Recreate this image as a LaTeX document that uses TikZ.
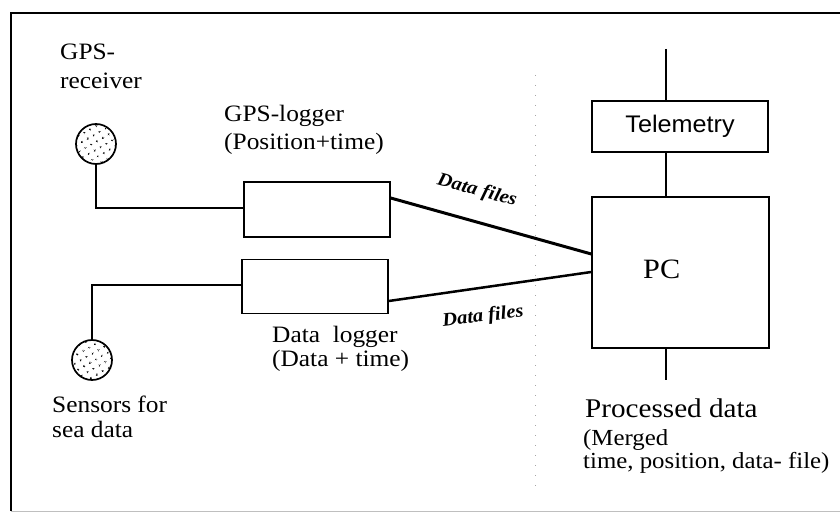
\documentclass[tikz,border=0pt]{standalone}
\usepackage{fontspec}
\setmainfont[FakeStretch=1.08]{Liberation Serif}
\newfontfamily\telefont[FakeStretch=1.05]{Liberation Sans}
\usetikzlibrary{patterns.meta}
\begin{document}
\begin{tikzpicture}[x=1pt,y=1pt,
  lbl/.style={anchor=base west,inner sep=0pt,font=\fontsize{23.5}{28}\selectfont,align=left},
  boxnode/.style={draw,line width=1.4pt,inner sep=0pt},
  wire/.style={line width=1.4pt},
  datawire/.style={line width=3pt},
  sensor/.style={circle,draw,line width=1.7pt,minimum size=40pt,inner sep=0pt,
     pattern={Dots[distance=6.5pt,angle=30,radius=1.1pt]}},
  hand/.style={font=\fontsize{19}{19}\selectfont\itshape\bfseries,inner sep=0pt}]
\useasboundingbox (0,0) rectangle (840,-521);
% frame
\draw[line width=1.5pt] (840,-13) -- (11,-13) -- (11,-511);
\draw[line width=0.6pt,black!25] (11,-511) -- (840,-511);
\draw[black!35,line width=0.8pt,dash pattern=on 1pt off 9pt] (535,-75) -- (535,-495);
% sensors
\node[sensor] (gpsr) at (96,-144) {};
\node[sensor] (seas) at (92,-360) {};
% boxes
\node[boxnode,minimum width=146pt,minimum height=55pt] (gpsl) at (317,-209.5) {};
\node[boxnode,minimum width=146pt,minimum height=54pt] (datal) at (315,-286.5) {};
\node[boxnode,minimum width=176pt,minimum height=51pt,font=\telefont\fontsize{24}{24}\selectfont] (tele) at (680,-126.5) {Telemetry};
\node[boxnode,minimum width=177pt,minimum height=151pt] (pc) at (680.5,-272.5) {};
\node[lbl] (pclbl) at (643,-278) {\fontsize{28}{28}\selectfont PC};
% coordinates
\coordinate (ant) at (666,-49);
\coordinate (out) at (666,-380);
\coordinate (c1) at (96,-208);
\coordinate (c2) at (92,-285);
% wires
\draw[wire] (gpsr.south) -- (c1) -- (gpsl.west |- c1);
\draw[wire] (seas.north) -- (c2) -- (datal.west |- c2);
\draw[wire] (ant) -- (tele.north -| ant);
\draw[wire] (tele.south -| ant) -- (pc.north -| ant);
\draw[wire] (pc.south -| ant) -- (out);
\coordinate (g1) at (390,-198);
\coordinate (p1) at (592,-254);
\coordinate (d1) at (388,-301);
\coordinate (p2) at (592,-272);
\draw[datawire,line cap=round] (gpsl.east |- g1) -- (pc.west |- p1);
\draw[line width=2.5pt,line cap=round] (datal.east |- d1) -- (pc.west |- p2);
\node[hand,rotate=-15] (df1) at (477,-191) {Data files};
\node[hand,rotate=7] (df2) at (483,-317) {Data files};
% labels (base anchor = baseline of the last line)
\node[lbl,font=\fontsize{23.5}{29}\selectfont] (t1) at (60,-89) {GPS-\\receiver};
\node[lbl] (t2) at (224,-150) {GPS-logger\\(Position+time)};
\node[lbl,font=\fontsize{23.5}{23.5}\selectfont] (t3) at (272,-366) {Data\ \ logger\\(Data + time)};
\node[lbl,font=\fontsize{23.5}{25}\selectfont] (t4) at (52,-437) {Sensors for\\sea data};
\node[lbl,font=\fontsize{27}{27}\selectfont] (t5) at (585,-417) {Processed data};
\node[lbl,font=\fontsize{23}{21}\selectfont] (t6) at (583,-468) {(Merged\\time, position, data- file)};
\end{tikzpicture}
\end{document}
